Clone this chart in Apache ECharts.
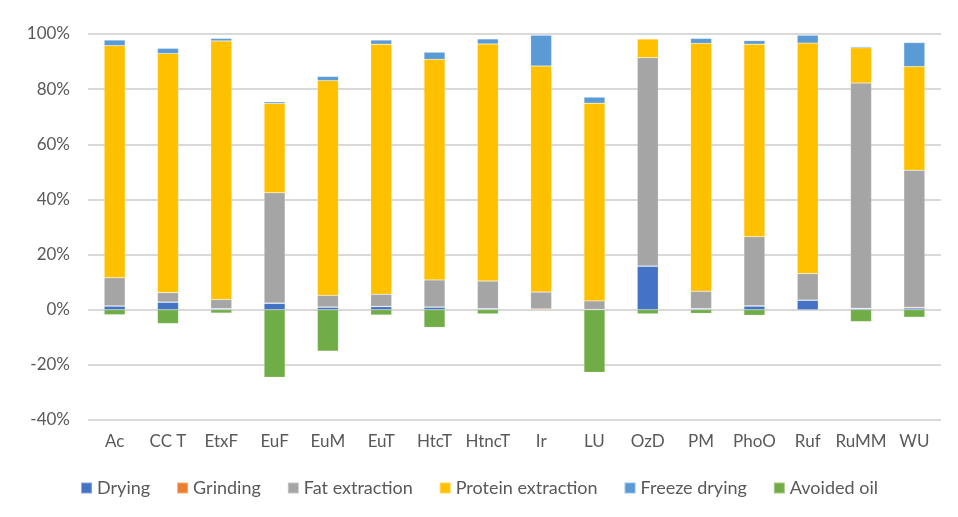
<!DOCTYPE html>
<html><head><meta charset="utf-8">
<script src="https://cdn.jsdelivr.net/npm/echarts@6/dist/echarts.min.js"></script>
<style>html,body{margin:0;padding:0;background:#fff}#c{width:958px;height:517px}</style>
</head><body><div id="c"></div>
<script>
const categories = ['Ac','CC T','EtxF','EuF','EuM','EuT','HtcT','HtncT','Ir','LU','OzD','PM','PhoO','Ruf','RuMM','WU'];
const drying      = [1.3, 2.7, 0.3, 2.3, 0.9, 1.1, 0.9, 0.3, 0.0, 0.1, 15.8, 0.3, 1.3, 3.4, 0.4, 0.6];
const grinding    = [0.1, 0.1, 0.1, 0.1, 0.1, 0.1, 0.1, 0.1, 0.3, 0.0, 0.1, 0.1, 0.1, 0.1, 0.1, 0.3];
const fatExtraction = [10.2, 3.4, 3.3, 40.0, 4.2, 4.4, 9.8, 10.0, 6.1, 3.1, 75.5, 6.3, 25.1, 9.6, 81.7, 49.7];
const proteinExtraction = [84.2, 86.7, 93.8, 32.4, 77.9, 90.7, 80.0, 86.0, 82.0, 71.7, 6.8, 89.9, 69.8, 83.6, 12.8, 37.6];
const freezeDrying = [2.0, 1.9, 0.9, 0.6, 1.5, 1.5, 2.6, 1.8, 11.2, 2.2, 0.1, 1.8, 1.3, 2.9, 0.4, 8.7];
const avoidedOil  = [-1.8, -5.0, -1.2, -24.5, -15.0, -1.9, -6.4, -1.5, 0, -22.7, -1.5, -1.3, -2.0, 0, -4.3, -2.7];
const yTicks = {min: -40, max: 100, interval: 20};

const seriesDefs = [
  ['Drying', drying, '#4472C4'],
  ['Grinding', grinding, '#ED7D31'],
  ['Fat extraction', fatExtraction, '#A5A5A5'],
  ['Protein extraction', proteinExtraction, '#FFC000'],
  ['Freeze drying', freezeDrying, '#5B9BD5'],
  ['Avoided oil', avoidedOil, '#70AD47']
];
const font = 'Lato, "Open Sans", sans-serif';
const chart = echarts.init(document.getElementById('c'));
chart.setOption({
  animation: false,
  textStyle: {fontFamily: font},
  grid: {left: 88, right: 17, top: 34, bottom: 97, containLabel: false, outerBoundsMode: 'none'},
  legend: {
    bottom: 15, left: 'center', itemWidth: 11, itemHeight: 11, itemGap: 26,
    icon: 'rect',
    textStyle: {fontSize: 18, color: '#595959', fontFamily: font, padding: [0, 0, 0, 0]}
  },
  xAxis: {
    type: 'category', data: categories,
    axisLine: {show: false}, axisTick: {show: false},
    axisLabel: {interval: 0, fontSize: 17, color: '#595959', margin: 13, fontFamily: font}
  },
  yAxis: {
    type: 'value', min: yTicks.min, max: yTicks.max, interval: yTicks.interval,
    axisLine: {show: false}, axisTick: {show: false},
    axisLabel: {formatter: '{value}%', fontSize: 17, color: '#595959', margin: 18, fontFamily: font},
    splitLine: {lineStyle: {color: '#d9d9d9', width: 2}}
  },
  series: seriesDefs.map(([name, data, color]) => ({
    name, type: 'bar', stack: 'total', data, barWidth: 21,
    itemStyle: {color, borderColor: 'rgba(255,255,255,0.35)', borderWidth: 0.5}
  }))
});
</script></body></html>
